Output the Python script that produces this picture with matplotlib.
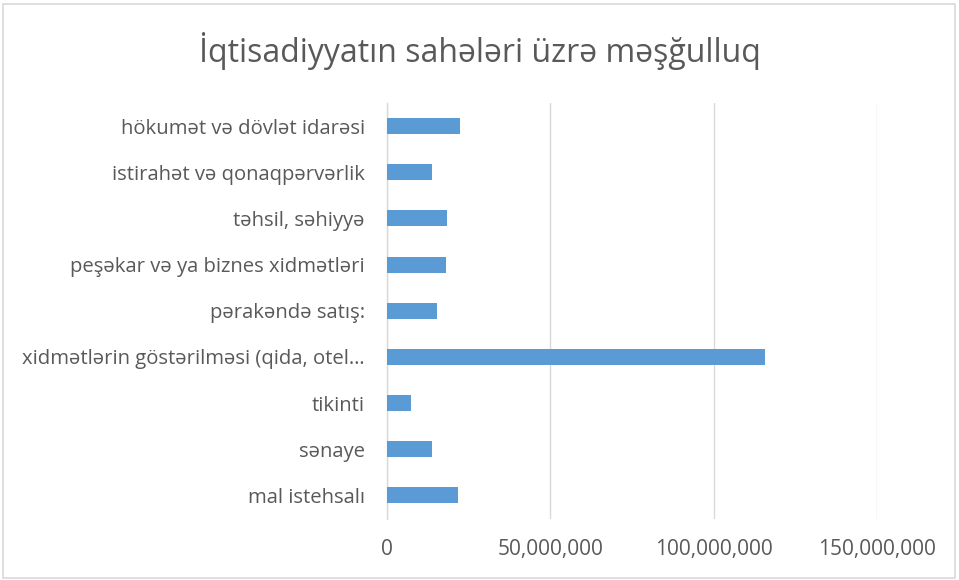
import matplotlib
matplotlib.use("Agg")
import matplotlib.pyplot as plt
from matplotlib.ticker import FuncFormatter
from matplotlib.patches import Rectangle

categories = [
    "hökumət və dövlət idarəsi",
    "istirahət və qonaqpərvərlik",
    "təhsil, səhiyyə",
    "peşəkar və ya biznes xidmətləri",
    "pərakəndə satış:",
    "xidmətlərin göstərilməsi (qida, otel…",
    "tikinti",
    "sənaye",
    "mal istehsalı",
]
values = [22.3e6, 13.7e6, 18.4e6, 18.0e6, 15.3e6, 115.8e6, 7.4e6, 13.7e6, 21.6e6]
xticks = [0, 50e6, 100e6, 150e6]

plt.rcParams['font.family'] = ['Open Sans', 'DejaVu Sans']

fig = plt.figure(figsize=(9.59, 5.80), dpi=100)
W, H = 959, 580
ax = fig.add_axes([387 / W, 1 - 518.5 / H, (877 - 387) / W, (518.5 - 103) / H])

ypos = list(range(len(categories)))[::-1]
ax.barh(ypos, values, height=0.35, color="#5B9BD5", zorder=3)
ax.set_ylim(-0.5, len(categories) - 0.5)
ax.set_xlim(0, 150e6)
ax.set_yticks(ypos)
ax.set_yticklabels(categories, fontsize=14.6, color="#595959")
ax.set_xticks(xticks)
ax.xaxis.set_major_formatter(FuncFormatter(lambda v, p: f"{int(v):,}"))
ax.tick_params(axis='x', labelsize=15, colors="#595959", length=0, pad=15)
ax.tick_params(axis='y', length=0, pad=16)
ax.grid(axis='x', color="#D9D9D9", linewidth=1, zorder=0)
for s in ["top", "right", "bottom"]:
    ax.spines[s].set_visible(False)
ax.spines["left"].set_color("#D9D9D9")
ax.spines["left"].set_linewidth(1)

fig.text(0.5, 1 - 51 / H, "İqtisadiyyatın sahələri üzrə məşğulluq",
         ha="center", va="center", fontsize=23, color="#595959")

fig.patches.append(Rectangle((3 / W, 2 / H), (W - 7) / W, (H - 6) / H,
                             transform=fig.transFigure, fill=False,
                             edgecolor="#D9D9D9", linewidth=1.2))

fig.savefig("out.png", dpi=100)
